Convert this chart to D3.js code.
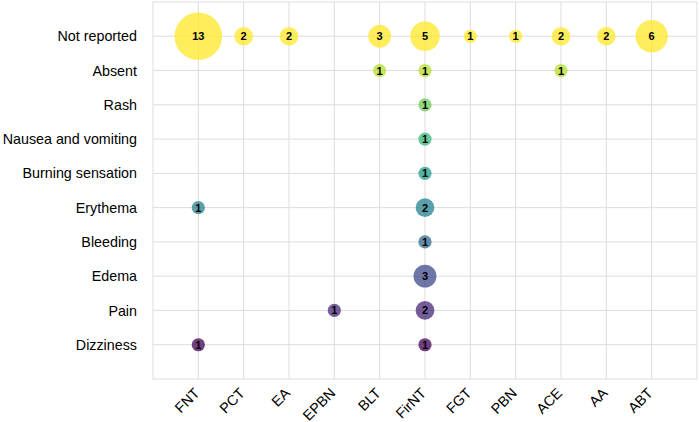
<!DOCTYPE html>
<html><head><meta charset="utf-8">
<script src="https://cdn.jsdelivr.net/npm/d3@7"></script>
<style>body{margin:0;background:#fff;}svg{display:block;font-family:"Liberation Sans",Arial,sans-serif;}</style>
</head><body>
<script>
const treatments = ["FNT","PCT","EA","EPBN","BLT","FirNT","FGT","PBN","ACE","AA","ABT"];
const effects = ["Not reported","Absent","Rash","Nausea and vomiting","Burning sensation","Erythema","Bleeding","Edema","Pain","Dizziness"];
const pointTreatment = ["FNT","PCT","EA","BLT","FirNT","FGT","PBN","ACE","AA","ABT",
  "BLT","FirNT","ACE",
  "FirNT","FirNT","FirNT",
  "FNT","FirNT",
  "FirNT","FirNT",
  "EPBN","FirNT",
  "FNT","FirNT"];
const pointEffect = ["Not reported","Not reported","Not reported","Not reported","Not reported","Not reported","Not reported","Not reported","Not reported","Not reported",
  "Absent","Absent","Absent",
  "Rash","Nausea and vomiting","Burning sensation",
  "Erythema","Erythema",
  "Bleeding","Edema",
  "Pain","Pain",
  "Dizziness","Dizziness"];
const pointCount = [13,2,2,3,5,1,1,2,2,6,
  1,1,1,
  1,1,1,
  1,2,
  1,3,
  1,2,
  1,1];

const W=699,H=422;
const L=153,R=697,T=2,B=379;
const svg=d3.select("body").append("svg").attr("width",W).attr("height",H);
const x=d3.scalePoint().domain(treatments).range([L,R]).padding(1);
const y=d3.scalePoint().domain(effects).range([T,B]).padding(1);
const r=d3.scaleSqrt().domain([0,13]).range([0,23.8]);
const color=i=>d3.interpolateViridis(1-i/(effects.length-1));

const g=svg.append("g");
g.append("rect").attr("x",L).attr("y",T).attr("width",R-L).attr("height",B-T).attr("fill","none").attr("stroke","#dddddd").attr("stroke-width",1);
g.selectAll(".vg").data(treatments).join("line").attr("x1",d=>x(d)).attr("x2",d=>x(d)).attr("y1",T).attr("y2",B).attr("stroke","#dddddd");
g.selectAll(".hg").data(effects).join("line").attr("y1",d=>y(d)).attr("y2",d=>y(d)).attr("x1",L).attr("x2",R).attr("stroke","#dddddd");

const xa=svg.append("g").attr("transform",`translate(0,${B})`).call(d3.axisBottom(x).tickSize(0));
xa.select(".domain").remove();
xa.selectAll("text").attr("font-size",14.3).attr("fill","#000").attr("font-family","Liberation Sans, Arial, sans-serif")
  .attr("x",0).attr("y",0).attr("dy","0.35em")
  .attr("text-anchor","end").attr("transform","translate(-2,11.5) rotate(-45)");
const ya=svg.append("g").attr("transform",`translate(${L},0)`).call(d3.axisLeft(y).tickSize(0).tickPadding(16));
ya.select(".domain").remove();
ya.selectAll("text").attr("font-size",14.3).attr("fill","#000").attr("font-family","Liberation Sans, Arial, sans-serif");

const pts=pointCount.map((c,i)=>({t:pointTreatment[i],e:pointEffect[i],c}));
const pg=svg.append("g");
pg.selectAll("circle").data(pts).join("circle")
  .attr("cx",d=>x(d.t)).attr("cy",d=>y(d.e)).attr("r",d=>r(d.c))
  .attr("fill",d=>color(effects.indexOf(d.e))).attr("fill-opacity",0.75);
pg.selectAll("text").data(pts).join("text")
  .attr("x",d=>x(d.t)).attr("y",d=>y(d.e)).attr("dy","0.36em").attr("text-anchor","middle")
  .attr("font-size",11).attr("font-weight","bold").attr("fill","#000").text(d=>d.c);
</script>
</body></html>
